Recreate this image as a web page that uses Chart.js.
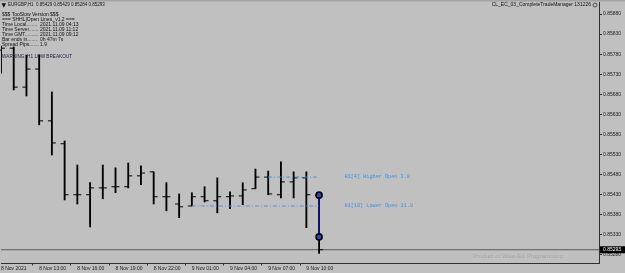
<!DOCTYPE html>
<html><head><meta charset="utf-8">
<script src="https://cdn.jsdelivr.net/npm/chart.js@4.4.0/dist/chart.umd.min.js"></script>
<style>html,body{margin:0;padding:0;background:#c0c0c0;overflow:hidden}#wrap{width:625px;height:273px}</style>
</head><body><div id="wrap"><canvas id="c" width="625" height="273"></canvas></div>
<script>
const hours = ['8 Nov 10:00','8 Nov 11:00','8 Nov 12:00','8 Nov 13:00','8 Nov 14:00','8 Nov 15:00','8 Nov 16:00','8 Nov 17:00','8 Nov 18:00','8 Nov 19:00','8 Nov 20:00','8 Nov 21:00','8 Nov 22:00','8 Nov 23:00','9 Nov 00:00','9 Nov 01:00','9 Nov 02:00','9 Nov 03:00','9 Nov 04:00','9 Nov 05:00','9 Nov 06:00','9 Nov 07:00','9 Nov 08:00','9 Nov 09:00','9 Nov 10:00','9 Nov 11:00'];
const futureHours = ['9 Nov 12:00','9 Nov 13:00','9 Nov 14:00','9 Nov 15:00','9 Nov 16:00','9 Nov 17:00','9 Nov 18:00','9 Nov 19:00','9 Nov 20:00','9 Nov 21:00','9 Nov 22:00','9 Nov 23:00','10 Nov 00:00','10 Nov 01:00','10 Nov 02:00','10 Nov 03:00','10 Nov 04:00','10 Nov 05:00','10 Nov 06:00','10 Nov 07:00','10 Nov 08:00','10 Nov 09:00'];
const opens  = [0.85790,0.85795,0.85698,0.85743,0.85614,0.85557,0.85430,0.85430,0.85447,0.85450,0.85450,0.85477,0.85487,0.85425,0.85407,0.85402,0.85425,0.85415,0.85425,0.85427,0.85445,0.85474,0.85430,0.85462,0.85472,0.85429];
const highs  = [0.85800,0.85798,0.85778,0.85778,0.85686,0.85564,0.85504,0.85460,0.85504,0.85497,0.85509,0.85502,0.85487,0.85460,0.85432,0.85435,0.85450,0.85472,0.85437,0.85460,0.85494,0.85489,0.85512,0.85487,0.85487,0.85429];
const lows   = [0.85733,0.85691,0.85676,0.85604,0.85529,0.85417,0.85407,0.85350,0.85420,0.85435,0.85447,0.85455,0.85407,0.85390,0.85373,0.85402,0.85412,0.85385,0.85395,0.85405,0.85445,0.85430,0.85422,0.85422,0.85348,0.85284];
const closes = [0.85795,0.85698,0.85743,0.85614,0.85559,0.85430,0.85430,0.85447,0.85447,0.85450,0.85477,0.85484,0.85425,0.85425,0.85400,0.85425,0.85415,0.85425,0.85427,0.85442,0.85474,0.85432,0.85462,0.85472,0.85430,0.85293];
const priceTicks = [0.85880,0.85830,0.85780,0.85730,0.85680,0.85630,0.85580,0.85530,0.85480,0.85430,0.85380,0.85330,0.85280];
const xTickIdx  = [0,3,6,9,12,15,18,21,24];
const xTickText = ['8 Nov 2021','8 Nov 13:00','8 Nov 16:00','8 Nov 19:00','8 Nov 22:00','9 Nov 01:00','9 Nov 04:00','9 Nov 07:00','9 Nov 10:00'];
const openLineStart = ['9 Nov 07:00', '9 Nov 01:00'];
const openLinePrice = [0.85474, 0.85402];
const openLineText  = ['H1[4] Higher Open 3.8', 'H1[10] Lower Open 11.8'];
const arrowPrices = [0.85429, 0.85325];
const bidPrice = 0.85293;
const titleText = 'EURGBP,H1  0.85429 0.85429 0.85284 0.85293';
const infoLabels = ['$$$ TooSlow Version $$$','=== SHHL|Open Lines_v1.2 ===','Time Local........','Time Server.......','Time GMT..........','Bar ends in.......','Spread Pips.......'];
const infoValues = ['','','2021.11.09 04:13','2021.11.09 11:12','2021.11.09 09:12','0h 47m 7s','1.9'];
const warningText = 'WARNING: H1 LOW BREAKOUT';
const eaText = 'CL_EC_03_CompleteTradeManager 131226';
const watermark = 'Product of Wise-EA Programming';

const labels = hours.concat(futureHours);
const lastHour = hours[hours.length - 1];
const labelHour = futureHours[1];

const bgPlugin = {
  id: 'bg',
  beforeDraw(chart) {
    const c = chart.ctx;
    c.save();
    c.fillStyle = '#c0c0c0';
    c.fillRect(0, 0, chart.width, chart.height);
    c.fillStyle = '#a4a4a4';
    c.fillRect(0, 0, chart.width, 1.5);
    c.restore();
  }
};

const textPlugin = {
  id: 'texts',
  afterDraw(chart) {
    const c = chart.ctx;
    const xs = chart.scales.x, ys = chart.scales.y;
    c.save();
    c.textBaseline = 'middle';
    c.fillStyle = '#101010';
    c.font = '6px "DejaVu Sans"';
    c.fillText('▼', 1.5, 5);
    c.font = '4.5px "Liberation Sans"';
    c.fillText(titleText, 8, 5);
    c.font = '5px "Liberation Sans"';
    infoLabels.forEach((t, i) => {
      const y = 15 + i * 5;
      c.fillText(t, 2, y);
      if (infoValues[i]) c.fillText(infoValues[i], 40, y);
    });
    c.fillStyle = '#1e1e40';
    c.font = '4.7px "Liberation Sans"';
    c.fillText(warningText, 2, 57);
    c.fillStyle = '#101010';
    c.font = '5px "Liberation Sans"';
    c.textAlign = 'right';
    c.fillText(eaText, 591, 5);
    c.beginPath();
    c.arc(595, 5, 2, 0, Math.PI * 2);
    c.strokeStyle = '#303030';
    c.lineWidth = 0.8;
    c.stroke();
    c.textAlign = 'left';
    c.fillStyle = '#3d8ee8';
    c.font = '5.2px "Liberation Mono"';
    openLinePrice.forEach((p, i) => {
      c.fillText(openLineText[i], xs.getPixelForValue(labels.indexOf(labelHour)), ys.getPixelForValue(p));
    });
    c.fillStyle = '#a4a4a4';
    c.font = '6px "Liberation Sans"';
    c.fillText(watermark, 473, 256);
    const by = ys.getPixelForValue(bidPrice);
    c.fillStyle = '#000';
    c.fillRect(600, by - 3.5, 25, 7);
    c.fillStyle = '#fff';
    c.font = '5px "Liberation Sans"';
    c.fillText(bidPrice.toFixed(5), 603, by);
    c.restore();
  }
};

const dashLine = (i) => ({
  type: 'line',
  data: [{x: openLineStart[i], y: openLinePrice[i]}, {x: lastHour, y: openLinePrice[i]}],
  borderColor: '#4a93e6', borderWidth: 1, borderDash: [4, 2, 1, 2], pointRadius: 0
});

new Chart(document.getElementById('c').getContext('2d'), {
  type: 'bar',
  data: {
    labels: labels,
    datasets: [
      { type: 'line', data: arrowPrices.map(p => ({x: lastHour, y: p})), borderColor: '#141488', borderWidth: 1.5,
        pointRadius: 3, pointBorderWidth: 1.6, pointBorderColor: '#000', pointBackgroundColor: '#2a48d0', clip: false },
      dashLine(0),
      dashLine(1),
      { type: 'line', data: opens, showLine: false, pointStyle: 'dash', pointRotation: 180, pointRadius: 4,
        pointBorderColor: '#000', pointBackgroundColor: '#000', pointBorderWidth: 1 },
      { type: 'line', data: closes, showLine: false, pointStyle: 'dash', pointRotation: 0, pointRadius: 4,
        pointBorderColor: '#000', pointBackgroundColor: '#000', pointBorderWidth: 1 },
      { type: 'bar', data: lows.map((l, i) => [l, highs[i]]), backgroundColor: '#000', borderWidth: 0, barThickness: 1.2 },
      { type: 'line', data: [{x: labels[0], y: bidPrice}, {x: labels[labels.length - 1], y: bidPrice}], borderColor: '#5a5a5a', borderWidth: 1, pointRadius: 0 }
    ]
  },
  options: {
    responsive: false, animation: false, devicePixelRatio: 1,
    layout: { autoPadding: false, padding: { left: 1, top: 2, right: 0, bottom: 0 } },
    plugins: { legend: { display: false }, tooltip: { enabled: false } },
    events: [],
    scales: {
      x: {
        type: 'category', offset: false, position: 'bottom',
        afterFit: s => { s.height = 10; s.paddingLeft = 0; s.paddingRight = 0; },
        grid: { drawOnChartArea: false, drawTicks: true, tickLength: 2.5,
                color: ctx => xTickIdx.includes(ctx.index) ? '#303030' : 'rgba(0,0,0,0)' },
        border: { display: true, color: '#303030', width: 1 },
        ticks: { autoSkip: false, maxRotation: 0, minRotation: 0, align: 'start', padding: 0,
                 color: '#202020', font: { family: 'Liberation Sans', size: 5 },
                 callback: (v, i) => { const k = xTickIdx.indexOf(i); return k >= 0 ? xTickText[k] : ''; } }
      },
      y: {
        type: 'linear', position: 'right', min: 0.85260, max: 0.85910,
        afterFit: s => { s.width = 26; s.paddingTop = 0; s.paddingBottom = 0; },
        afterBuildTicks: s => { s.ticks = priceTicks.map(v => ({ value: v })); },
        grid: { drawOnChartArea: false, drawTicks: true, tickLength: 3, color: '#303030' },
        border: { display: true, color: '#303030', width: 1 },
        ticks: { padding: 1, color: '#202020', font: { family: 'Liberation Sans', size: 5 },
                 callback: v => Number(v).toFixed(5) }
      }
    }
  },
  plugins: [bgPlugin, textPlugin]
});
</script>
</body></html>
